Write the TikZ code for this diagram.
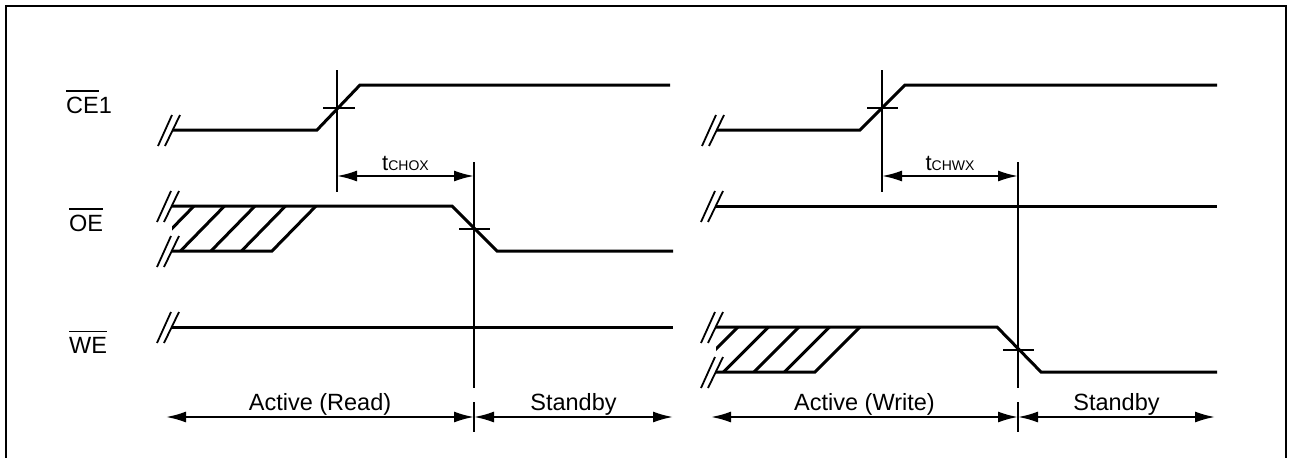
\documentclass[tikz,border=0pt]{standalone}
\usepackage{fontspec}
\setmainfont{Liberation Sans}
\usetikzlibrary{arrows.meta}

\newcommand{\sigbar}[1]{\vbox{\hrule height 1.6pt\kern 4.5pt\hbox{#1}}}

\tikzset{
    sig/.style={line width=3pt},
    marker/.style={line width=1.8pt},
    dimarrow/.style={line width=2pt,
        {Latex[length=20pt,width=11pt]}-{Latex[length=20pt,width=11pt]}},
    lbl/.style={inner sep=0pt, font=\fontsize{23.5}{27}\selectfont},
    tlbl/.style={inner sep=0pt, anchor=base, font=\fontsize{22}{26}\selectfont},
    brk/.pic={
        \draw[marker] (-15,16) -- (-1,-15);
        \draw[marker] (-8,16) -- (7,-15);
    }
}

\begin{document}
\begin{tikzpicture}[x=1pt, y=-1pt]
    \useasboundingbox (0,0) rectangle (1291,458);
    \draw[line width=2pt] (6,462) -- (6,6) -- (1286,6) -- (1286,462);

    % signal names
    \node[lbl, anchor=base west] (ce) at (66,113) {\sigbar{CE}1};
    \node[lbl, anchor=base west] (oe) at (69,231) {\sigbar{OE}};
    \node[lbl, anchor=base west] (we) at (69,353) {\sigbar{WE}};

    % read cycle
    \draw[sig] (173,130) -- (317,130) -- (360,85) -- (670,85);
    \pic at (173,130) {brk};
    \draw[sig] (172,206) -- (452,206) -- (497,251) -- (673,251);
    \draw[sig] (172,251) -- (272,251) -- (316,206);
    \pic at (172,206) {brk};
    \pic at (172,251) {brk};
    \begin{scope}
        \clip (172,190) rectangle (330,260);
        \foreach \b in {150,180.5,211,241.5}
            \draw[sig] (\b,251) -- ++(44,-45);
    \end{scope}
    \draw[sig] (172,327) -- (673,327);
    \pic at (172,327) {brk};

    \coordinate (ceR) at (337,176);
    \coordinate (oeX) at (474,176);
    \draw[marker] (337,70) -- (337,192);
    \draw[marker] (323,108) -- (355,108);
    \draw[marker] (474,162) -- (474,388);
    \draw[marker] (459,229) -- (490,229);
    \draw[marker] (474,402) -- (474,432);
    \draw[dimarrow] (ceR) -- (oeX)
        node[tlbl, midway, yshift=6pt] (tchox) {t\fontsize{14}{16}\selectfont CHOX};

    \coordinate (rdL) at (166,417);
    \coordinate (rdM) at (474,417);
    \coordinate (rdR) at (673,417);
    \draw[dimarrow] (rdL) -- (rdM)
        node[lbl, anchor=base, midway, yshift=7pt] (actr) {Active (Read)};
    \draw[dimarrow] (rdM) -- (rdR)
        node[lbl, anchor=base, midway, yshift=7pt] (stbr) {Standby};

    % write cycle
    \draw[sig] (717,130) -- (860,130) -- (905,85) -- (1217,85);
    \pic at (717,130) {brk};
    \draw[sig] (716,206) -- (1217,206);
    \pic at (716,206) {brk};
    \draw[sig] (716,327) -- (997,327) -- (1041,372) -- (1217,372);
    \draw[sig] (716,372) -- (815,372) -- (860,327);
    \pic at (716,327) {brk};
    \pic at (716,372) {brk};
    \begin{scope}
        \clip (716,310) rectangle (880,380);
        \foreach \b in {693,723.5,754,784.5}
            \draw[sig] (\b,372) -- ++(45,-45);
    \end{scope}

    \coordinate (ceW) at (882,176);
    \coordinate (weX) at (1018,176);
    \draw[marker] (882,70) -- (882,192);
    \draw[marker] (867,108) -- (898,108);
    \draw[marker] (1018,162) -- (1018,388);
    \draw[marker] (1003,350) -- (1034,350);
    \draw[marker] (1018,402) -- (1018,432);
    \draw[dimarrow] (ceW) -- (weX)
        node[tlbl, midway, yshift=6pt] (tchwx) {t\fontsize{14}{16}\selectfont CHWX};

    \coordinate (wrL) at (711,417);
    \coordinate (wrM) at (1018,417);
    \coordinate (wrR) at (1215,417);
    \draw[dimarrow] (wrL) -- (wrM)
        node[lbl, anchor=base, midway, yshift=7pt] (actw) {Active (Write)};
    \draw[dimarrow] (wrM) -- (wrR)
        node[lbl, anchor=base, midway, yshift=7pt] (stbw) {Standby};
\end{tikzpicture}
\end{document}
